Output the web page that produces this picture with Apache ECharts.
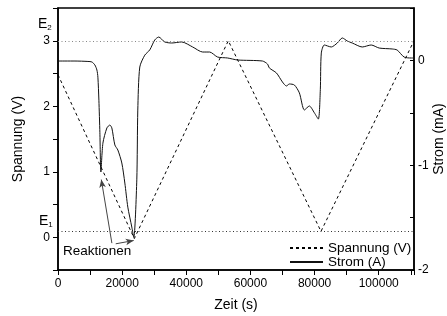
<!DOCTYPE html>
<html>
<head>
<meta charset="utf-8">
<script src="https://cdn.jsdelivr.net/npm/echarts@6/dist/echarts.min.js"></script>
<style>
  html, body { margin: 0; padding: 0; background: #fff; }
  #chart { width: 447px; height: 316px; }
</style>
</head>
<body>
<div id="chart"></div>
<script>
// Spannung (V): triangle sweep
var timeV = [0, 23800, 53100, 82000, 111000];
var voltage = [2.48, -0.02, 3.0, 0.09, 3.0];

// Strom (mA)
var timeI = [0, 5290, 9330, 10570, 11500, 12130, 12440, 12750, 13060, 13370,
  14000, 15240, 16170, 16790, 17730, 18660, 19900, 20840, 21770, 23010, 23640,
  24570, 24880, 25500, 27060, 28610, 30170, 31410, 33280, 35450, 38560, 41990,
  45100, 47270, 49760, 52870, 55980, 63760, 65300, 65930, 68110, 69980, 71220,
  72150, 73710, 75260, 76820, 78370, 79930, 81170, 81790, 82100, 83040, 85210,
  87080, 88640, 90190, 91750, 94860, 97650, 100140, 104190, 105740, 107920,
  110100, 110700];
var current = [-0.006, -0.006, -0.01, -0.015, -0.044, -0.092, -0.16, -0.38, -0.69, -1.065,
  -0.79, -0.645, -0.617, -0.645, -0.807, -0.855, -0.979, -1.17, -1.40, -1.59, -1.69,
  -1.14, -0.474, -0.063, 0.05, 0.10, 0.195, 0.223, 0.176, 0.166, 0.176, 0.128,
  0.08, 0.08, 0.032, 0.023, 0.004, -0.006, -0.034, -0.073, -0.12, -0.206, -0.244,
  -0.225, -0.235, -0.31, -0.473, -0.435, -0.50, -0.56, -0.28, 0.07, 0.147, 0.128,
  0.166, 0.214, 0.185, 0.166, 0.128, 0.147, 0.118, 0.109, 0.099, 0.032,
  0.023, 0.023];

// potential limits
var E1 = 0.09;
var E2 = 3.0;

// arrows for "Reaktionen" (time, voltage)
var arrows = [
  [[16800, -0.09], [13500, 0.88]],
  [[18000, -0.10], [23600, -0.05]]
];

var FONT = 'Liberation Sans, Arial, sans-serif';

var chart = echarts.init(document.getElementById('chart'));

var markData = [
  [{ coord: [0, E2], symbol: 'none', lineStyle: { color: '#888', type: [1, 2.5], width: 1 } },
   { coord: [111000, E2], symbol: 'none' }],
  [{ coord: [0, E1], symbol: 'none', lineStyle: { color: '#333', type: [1, 2.5], width: 1 } },
   { coord: [111000, E1], symbol: 'none' }]
];
arrows.forEach(function (a) {
  markData.push([
    { coord: a[0], symbol: 'none', lineStyle: { color: '#444', type: 'solid', width: 1 } },
    { coord: a[1], symbol: 'arrow', symbolSize: [5, 8] }
  ]);
});

chart.setOption({
  animation: false,
  textStyle: { fontFamily: FONT },
  grid: {
    left: 58, right: 33, top: 8, bottom: 46,
    outerBoundsMode: 'none',
    containLabel: false,
    show: true, borderColor: '#000', borderWidth: 1.5
  },
  legend: {
    data: ['Spannung (V)', 'Strom (A)'],
    orient: 'vertical',
    left: 284, top: 236,
    itemWidth: 33, itemHeight: 14, itemGap: 0,
    itemStyle: { opacity: 0 },
    textStyle: { fontSize: 13.5, color: '#000', fontFamily: FONT }
  },
  xAxis: {
    type: 'value',
    min: 0, max: 111000, interval: 10000,
    name: 'Zeit (s)',
    nameLocation: 'middle', nameGap: 28,
    nameTextStyle: { fontSize: 14, color: '#000', fontFamily: FONT },
    axisLine: { onZero: false, lineStyle: { color: '#000', width: 1.5 } },
    axisTick: { inside: false, length: 5, lineStyle: { color: '#000', width: 1 } },
    axisLabel: {
      color: '#000', fontSize: 12, margin: 8, fontFamily: FONT,
      formatter: function (v) { return v % 20000 === 0 ? String(v) : ''; }
    },
    splitLine: { show: false }
  },
  yAxis: [{
    type: 'value',
    position: 'left',
    min: -0.5, max: 3.5, interval: 0.5,
    name: 'Spannung (V)',
    nameLocation: 'middle', nameGap: 33, nameRotate: 90,
    nameTextStyle: { fontSize: 14, color: '#000', fontFamily: FONT },
    axisLine: { show: true, onZero: false, lineStyle: { color: '#000', width: 1.5 } },
    axisTick: { show: true, inside: false, length: 5, lineStyle: { color: '#000', width: 1 } },
    axisLabel: {
      color: '#000', fontSize: 12, margin: 8, fontFamily: FONT,
      formatter: function (v) { return Number.isInteger(v) ? String(v) : ''; }
    },
    splitLine: { show: false }
  }, {
    type: 'value',
    position: 'right',
    min: -2, max: 0.5, interval: 0.5,
    axisLine: { show: true, onZero: false, lineStyle: { color: '#000', width: 1.5 } },
    axisTick: { show: true, inside: true, length: 4, lineStyle: { color: '#000', width: 1 } },
    axisLabel: {
      inside: false,
      color: '#000', fontSize: 12, margin: 4, fontFamily: FONT,
      formatter: function (v) { return Number.isInteger(v) ? String(v) : ''; }
    },
    splitLine: { show: false }
  }],
  series: [{
    name: 'Spannung (V)',
    type: 'line',
    yAxisIndex: 0,
    symbol: 'none',
    data: timeV.map(function (t, i) { return [t, voltage[i]]; }),
    lineStyle: { color: '#000', width: 1, type: [3, 3] },
    itemStyle: { color: '#000' },
    markLine: {
      silent: true,
      label: { show: false },
      data: markData
    },
    z: 3
  }, {
    name: 'Strom (A)',
    type: 'line',
    yAxisIndex: 1,
    symbol: 'none',
    smooth: 0.25,
    data: timeI.map(function (t, i) { return [t, current[i]]; }),
    lineStyle: { color: '#111', width: 1 },
    itemStyle: { color: '#111' },
    z: 2
  }],
  graphic: [{
    // right axis title
    type: 'text', x: 439, y: 139, rotation: Math.PI / 2,
    style: {
      text: 'Strom (mA)', fontSize: 14, fontFamily: FONT, fill: '#000',
      align: 'center', verticalAlign: 'middle'
    }
  }, {
    type: 'text', left: 38, top: 17,
    style: {
      text: '{e|E}{s|2}',
      rich: {
        e: { fontSize: 14, fontFamily: FONT, fill: '#000' },
        s: { fontSize: 8, fontFamily: FONT, fill: '#000', padding: [8, 0, 0, 0] }
      }
    }
  }, {
    type: 'text', left: 39, top: 214,
    style: {
      text: '{e|E}{s|1}',
      rich: {
        e: { fontSize: 14, fontFamily: FONT, fill: '#000' },
        s: { fontSize: 8, fontFamily: FONT, fill: '#000', padding: [8, 0, 0, 0] }
      }
    }
  }, {
    type: 'text', left: 63, top: 244,
    style: { text: 'Reaktionen', fontSize: 13.5, fontFamily: FONT, fill: '#000' }
  }]
});
</script>
</body>
</html>
